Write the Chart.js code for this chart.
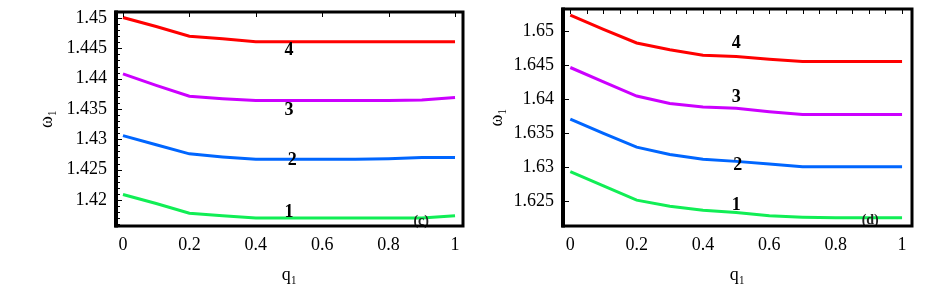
<!DOCTYPE html>
<html>
<head>
<meta charset="utf-8">
<script src="https://cdn.jsdelivr.net/npm/chart.js@4.4.1/dist/chart.umd.min.js"></script>
<style>
  html, body { margin: 0; padding: 0; background: #fff; }
  #wrap { position: relative; width: 948px; height: 293px; }
  canvas { position: absolute; top: 0; }
  #chartC { left: 0; }
  #chartD { left: 474px; }
</style>
</head>
<body>
<div id="wrap">
  <canvas id="chartC" width="474" height="293"></canvas>
  <canvas id="chartD" width="474" height="293"></canvas>
</div>
<script>
// q1 samples (same for both panels)
const q1 = [0, 0.1, 0.2, 0.3, 0.4, 0.5, 0.6, 0.7, 0.8, 0.9, 1];

// panel (c): omega1 for curves 1..4
const c1 = [1.4209, 1.4194, 1.4178, 1.4174, 1.4170, 1.4170, 1.4170, 1.4170, 1.4170, 1.4170, 1.4174];
const c2 = [1.4306, 1.4291, 1.4276, 1.4271, 1.4267, 1.4267, 1.4267, 1.4267, 1.4268, 1.4270, 1.4270];
const c3 = [1.4408, 1.4389, 1.4371, 1.4367, 1.4364, 1.4364, 1.4364, 1.4364, 1.4364, 1.4365, 1.4369];
const c4 = [1.4501, 1.4486, 1.4470, 1.4466, 1.4461, 1.4461, 1.4461, 1.4461, 1.4461, 1.4461, 1.4461];

// panel (d): omega1 for curves 1..4
const d1 = [1.6293, 1.6272, 1.6251, 1.6242, 1.6236, 1.6233, 1.6228, 1.6226, 1.6225, 1.6225, 1.6225];
const d2 = [1.6370, 1.6349, 1.6329, 1.6318, 1.6311, 1.6308, 1.6304, 1.6300, 1.6300, 1.6300, 1.6300];
const d3 = [1.6446, 1.6425, 1.6404, 1.6393, 1.6388, 1.6386, 1.6381, 1.6377, 1.6377, 1.6377, 1.6377];
const d4 = [1.6523, 1.6502, 1.6482, 1.6472, 1.6464, 1.6462, 1.6458, 1.6455, 1.6455, 1.6455, 1.6455];

// tick labels
const xTicks = [0, 0.2, 0.4, 0.6, 0.8, 1];
const cYTicks = [1.42, 1.425, 1.43, 1.435, 1.44, 1.445, 1.45];
const dYTicks = [1.625, 1.63, 1.635, 1.64, 1.645, 1.65];

// curve numbers and panel tags, placed in data coordinates
const curveNames = ["1", "2", "3", "4"];
const cNameX = [0.5, 0.51, 0.5, 0.5];
const cNameY = [1.4179, 1.4265, 1.4348, 1.4447];
const dNameX = [0.5, 0.505, 0.5, 0.5];
const dNameY = [1.6243, 1.6302, 1.6402, 1.6482];
const cTag = { text: "(c)", x: 0.898, y: 1.4164 };
const dTag = { text: "(d)", x: 0.904, y: 1.6221 };

const colors = ["#11ee55", "#0066ff", "#cc00ff", "#ff0000"];
const serif = "'Liberation Serif', 'DejaVu Serif', serif";

function fmt(v) {
  return String(Number(v.toFixed(4)));
}

// frame, inward tick marks and curve labels
const framePlugin = {
  id: "frame",
  afterDatasetsDraw(chart, args, opts) {
    const { ctx, scales } = chart;
    ctx.save();
    ctx.fillStyle = "#000";
    ctx.textAlign = "center";
    ctx.textBaseline = "middle";
    ctx.font = "bold 18px " + serif;
    opts.names.forEach((n, i) => {
      ctx.fillText(n, scales.x.getPixelForValue(opts.nameX[i]), scales.y.getPixelForValue(opts.nameY[i]));
    });
    ctx.font = "bold 14px " + serif;
    ctx.fillStyle = "#222";
    ctx.fillText(opts.tag.text, scales.x.getPixelForValue(opts.tag.x), scales.y.getPixelForValue(opts.tag.y));
    ctx.restore();
  },
  afterDraw(chart, args, opts) {
    const { ctx, chartArea: a, scales } = chart;
    ctx.save();
    ctx.strokeStyle = "#000";
    ctx.lineWidth = 1;
    ctx.beginPath();
    // y ticks along left edge
    opts.yMajor.forEach(v => {
      const y = Math.round(scales.y.getPixelForValue(v)) + 0.5;
      ctx.moveTo(a.left, y);
      ctx.lineTo(a.left + 6, y);
    });
    if (opts.yMinorFrom != null) {
      for (let k = 0; k <= opts.yMinorCount; k++) {
        const v = opts.yMinorFrom + k * opts.yMinorStep;
        const y = Math.round(scales.y.getPixelForValue(v)) + 0.5;
        ctx.moveTo(a.left, y);
        ctx.lineTo(a.left + 4, y);
      }
    }
    // x ticks along top edge
    for (let k = 0; k <= opts.xTopCount; k++) {
      const x = Math.round(scales.x.getPixelForValue(k * opts.xTopStep)) + 0.5;
      ctx.moveTo(x, a.top);
      ctx.lineTo(x, a.top + 5);
    }
    ctx.stroke();
    // frame
    ctx.lineWidth = 3;
    ctx.strokeRect(a.left, a.top, a.right - a.left, a.bottom - a.top);
    ctx.lineWidth = 4;
    ctx.beginPath();
    ctx.moveTo(a.left, a.top - 1.5);
    ctx.lineTo(a.left, a.bottom + 1.5);
    ctx.stroke();
    ctx.restore();
  }
};

function makePanel(id, series, yTicks, xRange, yRange, yWidth, pad, yTitlePad, frameOpts) {
  const datasets = series.map((s, i) => ({
    data: q1.map((q, j) => ({ x: q, y: s[j] })),
    borderColor: colors[i],
    borderWidth: 3,
    pointRadius: 0,
    tension: 0,
    fill: false
  }));
  return new Chart(document.getElementById(id), {
    type: "line",
    data: { datasets },
    plugins: [framePlugin],
    options: {
      responsive: false,
      animation: false,
      layout: { padding: pad },
      plugins: {
        legend: { display: false },
        tooltip: { enabled: false },
        frame: frameOpts
      },
      scales: {
        x: {
          type: "linear",
          min: xRange[0],
          max: xRange[1],
          afterBuildTicks: s => { s.ticks = xTicks.map(v => ({ value: v })); },
          afterFit: s => { s.height = 67; s.paddingLeft = 0; s.paddingRight = 0; },
          grid: { display: false, drawTicks: false },
          border: { display: false },
          ticks: {
            padding: 8,
            color: "#000",
            font: { family: serif, size: 18 },
            maxRotation: 0,
            callback: v => fmt(v)
          },
          title: {
            display: true,
            text: "q₁",
            color: "#000",
            font: { family: serif, size: 18 },
            padding: { top: 0, bottom: 7 }
          }
        },
        y: {
          type: "linear",
          min: yRange[0],
          max: yRange[1],
          afterBuildTicks: s => { s.ticks = yTicks.map(v => ({ value: v })); },
          afterFit: s => { s.width = yWidth; s.paddingTop = 0; s.paddingBottom = 0; },
          grid: { display: false, drawTicks: false },
          border: { display: false },
          ticks: {
            padding: 9,
            color: "#000",
            font: { family: serif, size: 18 },
            callback: v => fmt(v)
          },
          title: {
            display: true,
            text: "ω₁",
            color: "#000",
            font: { family: serif, size: 18 },
            padding: { top: yTitlePad, bottom: 0 }
          }
        }
      }
    }
  });
}

makePanel("chartC", [c1, c2, c3, c4], cYTicks, [-0.021, 1.024], [1.4157, 1.4510], 116,
  { top: 12, right: 11, left: 0, bottom: 0 }, 36,
  { names: curveNames, nameX: cNameX, nameY: cNameY, tag: cTag,
    yMajor: cYTicks, yMinorFrom: 1.416, yMinorStep: 0.001, yMinorCount: 34,
    xTopStep: 0.2, xTopCount: 5 });

makePanel("chartD", [d1, d2, d3, d4], dYTicks, [-0.022, 1.03], [1.6213, 1.6532], 89,
  { top: 9, right: 36, left: 0, bottom: 0 }, 12,
  { names: curveNames, nameX: dNameX, nameY: dNameY, tag: dTag,
    yMajor: dYTicks, yMinorFrom: null,
    xTopStep: 0.05, xTopCount: 20 });
</script>
</body>
</html>
